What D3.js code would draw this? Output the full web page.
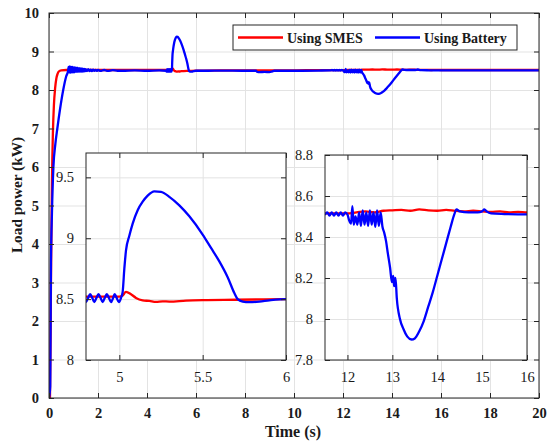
<!DOCTYPE html>
<html lang="en">
<head>
<meta charset="utf-8">
<title>load power</title>
<script src="https://d3js.org/d3.v7.min.js"></script>
<style>
  body { margin: 0; background: #fff; }
  svg text { font-family: "Liberation Serif", "DejaVu Serif", "Times New Roman", Times, serif !important; fill: #1a1a1a; }
</style>
</head>
<body>
<svg width="547" height="445"></svg>
<script>
// ---- data ----
var smesTime = [0, 0.04, 0.08, 0.12, 0.16, 0.2, 0.25, 0.3, 0.35, 0.4, 0.5, 0.7, 1.0, 2.0, 3.0, 4.0, 4.8, 5.0,
  5.02, 5.04, 5.07, 5.1, 5.14, 5.18, 5.22, 5.26, 5.3, 5.4, 5.5, 5.7, 6.0, 7.0, 8.0, 9.0, 10.0, 11.0, 11.98,
  12.2, 12.4, 12.6, 12.8, 13.0, 13.2, 13.4, 13.6, 13.8, 14.0, 14.2, 14.4, 14.6, 14.8, 15.0, 15.2, 15.4, 15.6,
  15.8, 16.0, 18.0, 20.0];
var smesPower = [0, 0, 3.0, 5.6, 6.9, 7.6, 8.05, 8.3, 8.42, 8.48, 8.51, 8.52, 8.52, 8.52, 8.52, 8.52, 8.52, 8.52,
  8.53, 8.56, 8.54, 8.51, 8.49, 8.485, 8.477, 8.482, 8.48, 8.488, 8.492, 8.495, 8.5, 8.51, 8.51, 8.51, 8.51, 8.515, 8.515,
  8.52, 8.525, 8.52, 8.528, 8.53, 8.532, 8.528, 8.535, 8.53, 8.528, 8.532, 8.527, 8.525, 8.528, 8.525, 8.522, 8.525, 8.52,
  8.523, 8.52, 8.52, 8.52];

var battTime = [0, 0.05, 0.08, 0.12, 0.18, 0.26, 0.34, 0.45, 0.58, 0.7, 0.78,
  0.8, 0.825, 0.85, 0.875, 0.9, 0.925, 0.95, 0.975, 1.0, 1.025, 1.05, 1.075, 1.1, 1.125, 1.15, 1.175, 1.2, 1.225,
  1.25, 1.275, 1.3, 1.325, 1.35, 1.375, 1.4, 1.425, 1.45, 1.475, 1.5, 1.55, 1.6, 1.65, 1.7, 1.75, 1.8, 1.85, 1.9,
  1.95, 2.0, 2.1, 2.25, 2.4, 2.6, 2.8, 3.0, 3.5, 4.0, 4.5, 4.78,
  4.8, 4.8125, 4.825, 4.8375, 4.85, 4.8625, 4.875, 4.8875, 4.9, 4.9125, 4.925, 4.9375, 4.95, 4.9625, 4.972, 4.984, 4.997,
  5.01, 5.02, 5.03, 5.04, 5.06, 5.08, 5.11, 5.14, 5.17, 5.21, 5.25, 5.3, 5.36, 5.42, 5.5, 5.55, 5.6, 5.65, 5.69,
  5.71, 5.74, 5.78, 5.84, 5.9, 6.0, 6.5, 7.0, 8.0, 8.45, 8.5, 8.6, 8.8, 9.0, 9.1, 9.2, 10.0, 11.0,
  11.5, 11.55, 11.6, 11.65, 11.7, 11.75, 11.8, 11.85, 11.9, 11.95, 12.0,
  12.04, 12.08, 12.11, 12.14, 12.18, 12.22, 12.26, 12.3, 12.34, 12.38, 12.42, 12.46, 12.5, 12.54, 12.58, 12.62,
  12.66, 12.7, 12.74, 12.78, 12.82, 12.86, 12.9, 12.95, 12.99, 13.02, 13.04, 13.07, 13.1, 13.17, 13.25, 13.33,
  13.43, 13.5, 13.6, 13.7, 13.8, 13.9, 14.0, 14.1, 14.2, 14.3, 14.38, 14.43, 14.5, 14.7, 14.9, 15.0, 15.05, 15.1,
  15.2, 15.5, 16.0, 18.0, 20.0];
var battPower = [0, 0.3, 3.5, 4.8, 6.0, 6.6, 7.0, 7.5, 8.0, 8.35, 8.5,
  8.6, 8.46, 8.61, 8.45, 8.6, 8.46, 8.6, 8.46, 8.59, 8.46, 8.59, 8.47, 8.58, 8.47, 8.58, 8.47, 8.57, 8.47,
  8.57, 8.48, 8.56, 8.48, 8.56, 8.48, 8.55, 8.48, 8.55, 8.49, 8.54, 8.49, 8.54, 8.49, 8.53, 8.49, 8.53, 8.495, 8.525,
  8.495, 8.52, 8.495, 8.52, 8.495, 8.515, 8.5, 8.5, 8.51, 8.5, 8.51, 8.5,
  8.475, 8.51, 8.54, 8.51, 8.475, 8.51, 8.54, 8.51, 8.475, 8.51, 8.54, 8.51, 8.475, 8.51, 8.54, 8.51, 8.475,
  8.51, 8.56, 8.75, 8.9, 9.02, 9.12, 9.23, 9.3, 9.35, 9.385, 9.38, 9.34, 9.27, 9.18, 9.03, 8.92, 8.81, 8.68, 8.55,
  8.5, 8.48, 8.475, 8.48, 8.49, 8.5, 8.5, 8.505, 8.5, 8.5, 8.47, 8.465, 8.47, 8.465, 8.48, 8.5, 8.5, 8.505,
  8.51, 8.52, 8.505, 8.52, 8.505, 8.52, 8.505, 8.52, 8.505, 8.52, 8.51,
  8.48, 8.465, 8.55, 8.46, 8.5, 8.46, 8.52, 8.455, 8.53, 8.46, 8.52, 8.455, 8.53, 8.46, 8.52, 8.45,
  8.53, 8.455, 8.52, 8.45, 8.42, 8.38, 8.32, 8.25, 8.18, 8.21, 8.16, 8.2, 8.1, 8.0, 7.95, 7.915,
  7.9, 7.905, 7.94, 7.99, 8.06, 8.13, 8.21, 8.29, 8.37, 8.45, 8.51, 8.535, 8.525, 8.52, 8.52, 8.525, 8.535, 8.525,
  8.515, 8.512, 8.51, 8.51, 8.51];

var mainXTicks = [0, 2, 4, 6, 8, 10, 12, 14, 16, 18, 20];
var mainYTicks = [0, 1, 2, 3, 4, 5, 6, 7, 8, 9, 10];
var zoom1XTicks = [5, 5.5, 6];
var zoom1YTicks = [8, 8.5, 9, 9.5];
var zoom2XTicks = [12, 13, 14, 15, 16];
var zoom2YTicks = [7.8, 8, 8.2, 8.4, 8.6, 8.8];
var seriesNames = ["Using SMES", "Using Battery"];
var seriesColors = ["#ff0000", "#0000ff"];

var smes = smesTime.map((t, i) => ({t: t, p: smesPower[i]}));
var batt = battTime.map((t, i) => ({t: t, p: battPower[i]}));

var svg = d3.select("svg");

function panel(id, box, xDom, yDom, xTicks, yTicks, bold) {
  var x = d3.scaleLinear().domain(xDom).range([box.l, box.r]);
  var y = d3.scaleLinear().domain(yDom).range([box.b, box.t]);
  var g = svg.append("g").attr("id", id);
  var w = box.r - box.l, h = box.b - box.t;

  g.append("rect").attr("x", box.l).attr("y", box.t).attr("width", w).attr("height", h).attr("fill", "#fff");

  // grid
  g.append("g").attr("transform", `translate(0,${box.b})`)
    .call(d3.axisBottom(x).tickValues(xTicks).tickSize(-h).tickFormat(""))
    .call(a => a.select(".domain").remove())
    .selectAll("line").attr("stroke", "#e3e3e3");
  g.append("g").attr("transform", `translate(${box.l},0)`)
    .call(d3.axisLeft(y).tickValues(yTicks).tickSize(-w).tickFormat(""))
    .call(a => a.select(".domain").remove())
    .selectAll("line").attr("stroke", "#e3e3e3");

  // lines, clipped to the panel
  g.append("clipPath").attr("id", id + "-clip")
    .append("rect").attr("x", box.l).attr("y", box.t).attr("width", w).attr("height", h);
  var line = d3.line().x(d => x(d.t)).y(d => y(d.p)).curve(d3.curveMonotoneX);
  var lines = g.append("g").attr("clip-path", `url(#${id}-clip)`);
  [smes, batt].forEach((s, i) => {
    lines.append("path").datum(s).attr("d", line)
      .attr("fill", "none").attr("stroke", seriesColors[i])
      .attr("stroke-width", 2.3).attr("stroke-linejoin", "round");
  });

  // inward ticks on all four sides
  var fs = 14.5, fw = bold ? "bold" : "normal";
  var ax = [
    [d3.axisBottom(x), `translate(0,${box.b})`, xTicks, true],
    [d3.axisTop(x), `translate(0,${box.t})`, xTicks, false],
    [d3.axisLeft(y), `translate(${box.l},0)`, yTicks, true],
    [d3.axisRight(y), `translate(${box.r},0)`, yTicks, false]
  ];
  ax.forEach(a => {
    var gg = g.append("g").attr("transform", a[1])
      .call(a[0].tickValues(a[2]).tickSizeInner(-5).tickSizeOuter(0).tickPadding(bold ? 10 : 12)
        .tickFormat(a[3] ? d3.format("") : ""));
    gg.select(".domain").remove();
    gg.attr("font-family", null);
    gg.selectAll("line").attr("stroke", "#262626");
    gg.selectAll("text").attr("font-size", fs).attr("font-weight", fw);
  });

  g.append("rect").attr("x", box.l).attr("y", box.t).attr("width", w).attr("height", h)
    .attr("fill", "none").attr("stroke", "#262626").attr("stroke-width", 1);
  return g;
}

panel("main", {l: 49, r: 539, t: 13, b: 398}, [0, 20], [0, 10], mainXTicks, mainYTicks, true);
panel("zoom1", {l: 86, r: 286, t: 153, b: 360}, [4.8, 6], [8, 9.7], zoom1XTicks, zoom1YTicks, false);
panel("zoom2", {l: 325, r: 527, t: 155, b: 360}, [11.5, 16], [7.8, 8.8], zoom2XTicks, zoom2YTicks, false);

// axis titles
svg.append("text").attr("x", 293).attr("y", 437).attr("text-anchor", "middle")
  .attr("font-size", 16).attr("font-weight", "bold").text("Time (s)");
svg.append("text").attr("transform", "translate(22,195) rotate(-90)").attr("text-anchor", "middle")
  .attr("font-size", 15.3).attr("font-weight", "bold").text("Load power (kW)");

// legend
var leg = svg.append("g").attr("id", "legend");
leg.append("rect").attr("x", 233).attr("y", 25).attr("width", 284).attr("height", 25)
  .attr("fill", "#fff").attr("stroke", "#262626").attr("stroke-width", 1);
var legX = [238, 375];
seriesNames.forEach((n, i) => {
  leg.append("line").attr("x1", legX[i]).attr("x2", legX[i] + 45).attr("y1", 37.5).attr("y2", 37.5)
    .attr("stroke", seriesColors[i]).attr("stroke-width", 2.3);
  leg.append("text").attr("x", legX[i] + 49).attr("y", 42.5)
    .attr("font-size", 14).attr("font-weight", "bold").text(n);
});
</script>
</body>
</html>
